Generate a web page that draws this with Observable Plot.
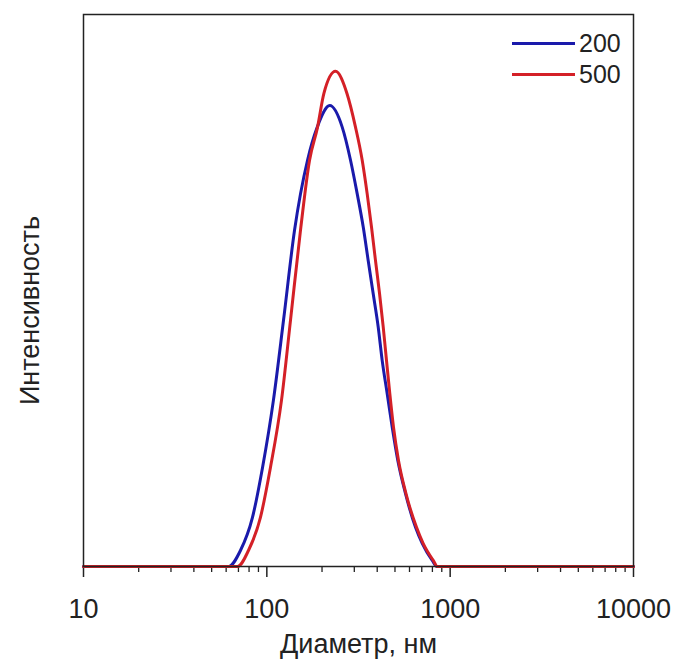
<!DOCTYPE html>
<html><head><meta charset="utf-8">
<script src="https://cdn.jsdelivr.net/npm/d3@7"></script>
<script src="https://cdn.jsdelivr.net/npm/@observablehq/plot@0.6"></script>
<style>
body{margin:0;background:#fff;}
#wrap{position:relative;width:675px;height:660px;font-family:"Liberation Sans",Arial,sans-serif;color:#222;}
.leg{position:absolute;display:flex;align-items:center;font-size:25px;line-height:25px;}
.sw{width:63px;height:3px;margin-right:4px;}
</style></head><body><div id="wrap"></div>
<script>
// Diameter (nm) and intensity (% of full scale)
const diam200 = [10, 61.8, 71.8, 83.5, 94.7, 108.6, 123.3, 141.6, 166.7, 188.4, 220.6, 257.7, 286.1, 311.2, 335.6, 357.3, 380.4, 405.0, 425.9, 453.5, 483.0, 518.1, 570.7, 647.1, 704.0, 798.3, 848, 10000];
const int200  = [0, 0, 2.9, 8.9, 17.9, 30.1, 44.6, 60.9, 73.6, 79.6, 83.5, 79.6, 73.6, 67.5, 61.5, 55.4, 49.4, 43.4, 37.3, 31.3, 25.2, 19.2, 13.2, 7.1, 4.2, 1.1, 0, 0];
const diam500 = [10, 69.2, 79.4, 92.3, 104.6, 120.2, 134.6, 152.6, 171.0, 188.8, 204.8, 236.9, 274.1, 304.5, 331.3, 352.7, 372.3, 391.5, 411.7, 431.3, 449.6, 468.6, 491.0, 522.6, 574.0, 655.3, 712, 808.4, 852, 10000];
const int500  = [0, 0, 2.9, 8.9, 17.9, 30.1, 44.6, 60.9, 73.6, 79.5, 85.7, 89.7, 85.6, 79.6, 73.6, 67.5, 61.5, 55.4, 49.5, 43.4, 37.3, 31.3, 25.2, 19.2, 13.2, 7.1, 4.2, 1.1, 0, 0];
const seriesNames = ["200", "500"];
const seriesColors = ["#1a1aab", "#d42027"];
const majorTicks = [10, 100, 1000, 10000];
const minorTicks = [20, 30, 40, 50, 60, 70, 80, 90, 200, 300, 400, 500, 600, 700, 800, 900, 2000, 3000, 4000, 5000, 6000, 7000, 8000, 9000];
const xTitle = "Диаметр, нм";
const yTitle = "Интенсивность";

const s200 = diam200.map((d, i) => ({d, v: int200[i]}));
const s500 = diam500.map((d, i) => ({d, v: int500[i]}));

const font = "'Liberation Sans', Arial, sans-serif";
const chart = Plot.plot({
  width: 675, height: 660,
  marginLeft: 83, marginRight: 42, marginTop: 14, marginBottom: 94,
  style: {fontFamily: font, fontSize: "27px", color: "#222", background: "white"},
  x: {type: "log", domain: [10, 10000], label: null},
  y: {domain: [0, 100], axis: null},
  marks: [
    Plot.axisX(minorTicks, {tickSize: 6, tickFormat: () => "", label: null, stroke: "#222", strokeWidth: 1.3}),
    Plot.axisX(majorTicks, {tickSize: 11, tickPadding: 21, tickFormat: d => String(d), label: null, fontSize: 27, stroke: "#222", strokeWidth: 1.5}),
    Plot.line(s200, {x: "d", y: "v", stroke: seriesColors[0], strokeWidth: 3, curve: "monotone-x"}),
    Plot.line(s500, {x: "d", y: "v", stroke: seriesColors[1], strokeWidth: 3, curve: "monotone-x"}),
    Plot.frame({stroke: "#222", strokeWidth: 1.5}),
    Plot.text([xTitle], {text: d => d, frameAnchor: "bottom", dy: 86, fontSize: 27, fill: "#222"}),
    Plot.text([yTitle], {text: d => d, frameAnchor: "left", textAnchor: "middle", lineAnchor: "middle", rotate: -90, dx: -53, dy: 20, fontSize: 27, fill: "#222"})
  ]
});
const wrap = document.getElementById("wrap");
wrap.appendChild(chart);
const legTops = [43, 74];
seriesNames.forEach((name, i) => {
  const row = document.createElement("div");
  row.className = "leg";
  row.style.left = "512px";
  row.style.top = (legTops[i] - 12.5) + "px";
  const sw = document.createElement("div");
  sw.className = "sw";
  sw.style.background = seriesColors[i];
  const t = document.createElement("span");
  t.textContent = name;
  row.appendChild(sw); row.appendChild(t);
  wrap.appendChild(row);
});
</script></body></html>
